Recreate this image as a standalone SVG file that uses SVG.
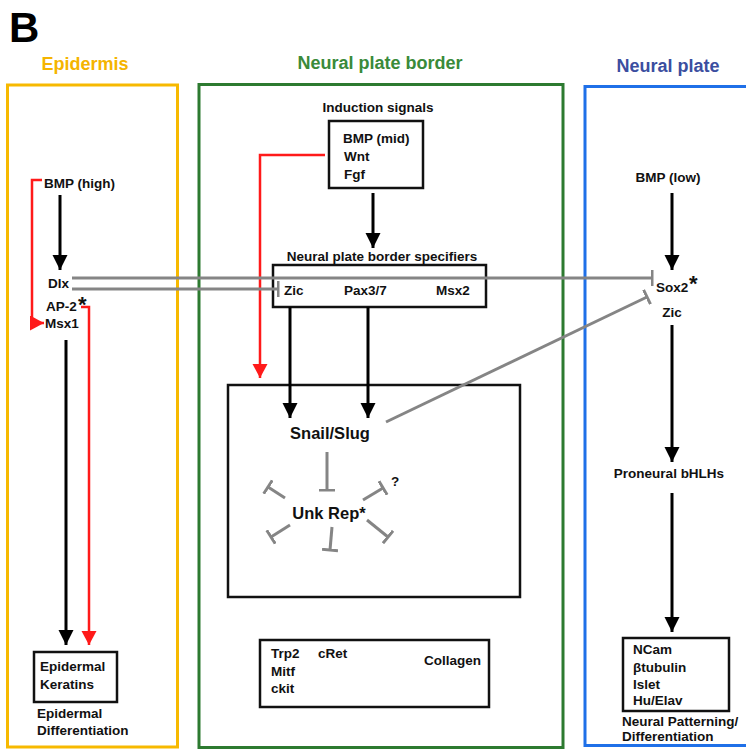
<svg xmlns="http://www.w3.org/2000/svg" width="746" height="750" viewBox="0 0 746 750">
<style>
.t{font-family:"Liberation Sans",Arial,sans-serif;font-weight:bold;font-size:13.5px;fill:#111}
.big{font-size:16.5px}
.ast{font-size:22px}
.hdr{font-family:"Liberation Sans",Arial,sans-serif;font-weight:bold;font-size:18px}
.box{fill:none;stroke:#111;stroke-width:2.5}
.blk{stroke:#000;stroke-width:3;fill:none}
.red{stroke:#ff1a1a;stroke-width:2.5;fill:none}
.gry{stroke:#858585;stroke-width:3;fill:none}
</style>
<defs>
<marker id="ab" markerUnits="userSpaceOnUse" markerWidth="16" markerHeight="16" refX="15" refY="7.5" orient="auto"><path d="M0,0 L15,7.5 L0,15 Z" fill="#000"/></marker>
<marker id="ar" markerUnits="userSpaceOnUse" markerWidth="16" markerHeight="16" refX="14" refY="7.5" orient="auto"><path d="M0,0 L14,7.5 L0,15 Z" fill="#ff1a1a"/></marker>
<marker id="tb" markerUnits="userSpaceOnUse" markerWidth="4" markerHeight="16" refX="1.5" refY="8" orient="auto"><path d="M1.5,0 L1.5,16" stroke="#858585" stroke-width="3"/></marker>
</defs>
<rect width="746" height="750" fill="#fff"/>
<text x="9" y="42" font-family="Liberation Sans,Arial,sans-serif" font-weight="bold" font-size="42" fill="#000">B</text>

<g id="epidermis">
<rect x="7.5" y="85" width="170" height="662" fill="none" stroke="#f7b900" stroke-width="3"/>
<text class="hdr" x="85" y="70" text-anchor="middle" fill="#f5b400">Epidermis</text>
</g>
<g id="neural-plate-border">
<rect x="199" y="84.5" width="364" height="663" fill="none" stroke="#2d7a30" stroke-width="3"/>
<text class="hdr" x="380" y="69" text-anchor="middle" fill="#3a8a3a">Neural plate border</text>
</g>
<g id="neural-plate">
<rect x="585" y="86.5" width="165" height="659" fill="none" stroke="#1f70e8" stroke-width="3"/>
<text class="hdr" x="668" y="72" text-anchor="middle" fill="#3b4ea0">Neural plate</text>
</g>

<g id="bmp-high"><text class="t" x="44" y="188">BMP (high)</text></g>
<g id="dlx"><text class="t" x="48" y="288">Dlx</text></g>
<g id="ap2-msx1">
<text class="t" x="46" y="311">AP-2</text>
<text class="t ast" x="78" y="312">*</text>
<text class="t" x="45" y="328">Msx1</text>
</g>
<g id="epidermal-keratins">
<rect class="box" x="34" y="652" width="83" height="50"/>
<text class="t" x="40" y="671">Epidermal</text>
<text class="t" x="40" y="689">Keratins</text>
</g>
<g id="epidermal-differentiation">
<text class="t" x="37" y="718">Epidermal</text>
<text class="t" x="37" y="735">Differentiation</text>
</g>

<g id="induction-signals">
<text class="t" x="378" y="112" text-anchor="middle">Induction signals</text>
<rect class="box" x="329" y="121" width="94" height="67"/>
<text class="t" x="343" y="143">BMP (mid)</text>
<text class="t" x="344" y="161">Wnt</text>
<text class="t" x="344" y="179">Fgf</text>
</g>
<g id="npb-specifiers">
<text class="t" x="382" y="261" text-anchor="middle" font-size="14">Neural plate border specifiers</text>
<rect class="box" x="273" y="265" width="213" height="42"/>
<text class="t" x="284" y="295">Zic</text>
<text class="t" x="344" y="295">Pax3/7</text>
<text class="t" x="436" y="295">Msx2</text>
</g>
<g id="neural-crest">
<rect class="box" x="228" y="385" width="292" height="212"/>
<text class="t big" x="330" y="439" text-anchor="middle">Snail/Slug</text>
<text class="t big" x="329" y="519" text-anchor="middle">Unk Rep*</text>
<text class="t" x="391" y="486" font-size="15">?</text>
</g>
<g id="nc-markers">
<rect class="box" x="260" y="640" width="229" height="67"/>
<text class="t" x="271" y="658">Trp2</text>
<text class="t" x="271" y="676">Mitf</text>
<text class="t" x="271" y="693">ckit</text>
<text class="t" x="318" y="658">cRet</text>
<text class="t" x="424" y="665">Collagen</text>
</g>

<g id="bmp-low"><text class="t" x="668" y="182" text-anchor="middle">BMP (low)</text></g>
<g id="sox2-zic">
<text class="t" x="656" y="292">Sox2</text>
<text class="t ast" x="689" y="291">*</text>
<text class="t" x="672" y="317" text-anchor="middle">Zic</text>
</g>
<g id="proneural"><text class="t" x="669" y="478" text-anchor="middle">Proneural bHLHs</text></g>
<g id="neural-markers">
<rect class="box" x="623" y="638" width="106" height="73"/>
<text class="t" x="633" y="654">NCam</text>
<text class="t" x="633" y="672">βtubulin</text>
<text class="t" x="633" y="689">Islet</text>
<text class="t" x="633" y="705">Hu/Elav</text>
</g>
<g id="neural-differentiation">
<text class="t" x="622" y="726">Neural Patterning/</text>
<text class="t" x="622" y="741">Differentiation</text>
</g>

<g id="connectors">
<line class="blk" x1="60" y1="195" x2="60" y2="270" marker-end="url(#ab)"/>
<line class="blk" x1="66" y1="340" x2="66" y2="645" marker-end="url(#ab)"/>
<line class="blk" x1="373" y1="193" x2="373" y2="248" marker-end="url(#ab)"/>
<line class="blk" x1="290" y1="307" x2="290" y2="418" marker-end="url(#ab)"/>
<line class="blk" x1="368" y1="307" x2="368" y2="418" marker-end="url(#ab)"/>
<line class="blk" x1="672" y1="193" x2="672" y2="270" marker-end="url(#ab)"/>
<line class="blk" x1="672" y1="325" x2="672" y2="462" marker-end="url(#ab)"/>
<line class="blk" x1="672" y1="493" x2="672" y2="632" marker-end="url(#ab)"/>
<polyline class="red" points="81,307 89,307 89,645" marker-end="url(#ar)"/>
<polyline class="red" points="42,180 32,180 32,323 44,323" marker-end="url(#ar)"/>
<polyline class="red" points="325,155 260,155 260,378" marker-end="url(#ar)"/>
<line class="gry" x1="72" y1="278" x2="652" y2="278" marker-end="url(#tb)"/>
<line class="gry" x1="72" y1="289" x2="278" y2="289" marker-end="url(#tb)"/>
<line class="gry" x1="386" y1="422" x2="647" y2="297" marker-end="url(#tb)"/>
<line class="gry" x1="327" y1="452" x2="327" y2="490" marker-end="url(#tb)"/>
<line class="gry" x1="285" y1="498" x2="268" y2="487" marker-end="url(#tb)"/>
<line class="gry" x1="363" y1="500" x2="383" y2="488" marker-end="url(#tb)"/>
<line class="gry" x1="290" y1="525" x2="271" y2="537" marker-end="url(#tb)"/>
<line class="gry" x1="332" y1="527" x2="330" y2="550" marker-end="url(#tb)"/>
<line class="gry" x1="367" y1="520" x2="388" y2="537" marker-end="url(#tb)"/>
</g>
</svg>
